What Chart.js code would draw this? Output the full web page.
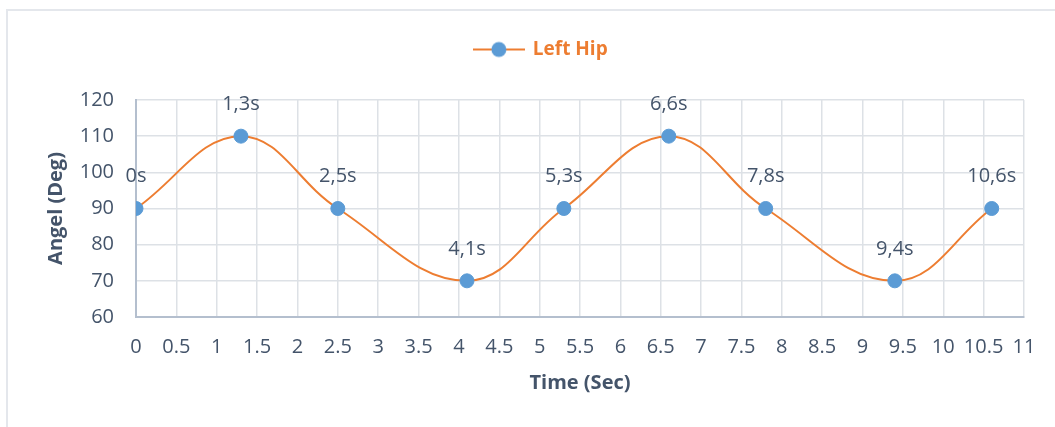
<!DOCTYPE html>
<html>
<head>
<meta charset="utf-8">
<script src="https://cdn.jsdelivr.net/npm/chart.js@4.4.1/dist/chart.umd.min.js"></script>
<style>
  html, body { margin: 0; padding: 0; background: #ffffff; }
  #wrap { position: relative; width: 1055px; height: 427px; }
</style>
</head>
<body>
<div id="wrap"><canvas id="c" width="1055" height="427"></canvas></div>
<script>
// ---- data ----
const timeValues = [0, 1.3, 2.5, 4.1, 5.3, 6.6, 7.8, 9.4, 10.6];
const angleValues = [90, 110, 90, 70, 90, 110, 90, 70, 90];
const pointLabels = ['0s', '1,3s', '2,5s', '4,1s', '5,3s', '6,6s', '7,8s', '9,4s', '10,6s'];
const seriesName = 'Left Hip';
const xTitle = 'Time (Sec)';
const yTitle = 'Angel (Deg)';
const xMin = 0, xMax = 11, xStep = 0.5;
const yMin = 60, yMax = 120, yStep = 10;

const ORANGE = '#ED7D31';
const BLUE = '#5B9BD5';
const TEXT = '#44546A';
const FONT = "'Open Sans', 'Noto Sans', sans-serif";

// legend symbol: line with a circle marker
const sym = document.createElement('canvas');
sym.width = 52; sym.height = 18;
(function () {
  const g = sym.getContext('2d');
  g.strokeStyle = ORANGE; g.lineWidth = 2;
  g.beginPath(); g.moveTo(0, 9); g.lineTo(52, 9); g.stroke();
  g.fillStyle = BLUE;
  g.beginPath(); g.arc(26, 9, 7.5, 0, Math.PI * 2); g.fill();
})();

const frame = {
  id: 'frame',
  beforeDraw(chart) {
    const ctx = chart.ctx;
    ctx.save();
    ctx.fillStyle = '#E4E7EC';
    ctx.fillRect(6, 9, chart.width - 6, 2);
    ctx.fillRect(6, 9, 2, chart.height - 9);
    ctx.restore();
  }
};

// give the legend extra room below its row and nudge it to the reference position
const legendTweak = {
  id: 'legendTweak',
  beforeLayout(chart) {
    const lg = chart.legend;
    if (lg && !lg._tweaked) {
      const f = lg.fit;
      lg.fit = function () { f.call(this); this.height += 31; };
      lg._tweaked = true;
    }
  },
  afterLayout(chart) {
    const lg = chart.legend;
    if (lg) { lg.left += 29; lg.right += 29; }
  }
};

const valueLabels = {
  id: 'valueLabels',
  afterDatasetsDraw(chart) {
    const ctx = chart.ctx;
    const meta = chart.getDatasetMeta(0);
    ctx.save();
    ctx.font = '20px ' + FONT;
    ctx.fillStyle = TEXT;
    ctx.textAlign = 'center';
    ctx.textBaseline = 'middle';
    meta.data.forEach((pt, i) => {
      ctx.fillText(pointLabels[i], pt.x, pt.y - 32);
    });
    ctx.restore();
  }
};

new Chart(document.getElementById('c'), {
  type: 'scatter',
  data: {
    datasets: [{
      label: seriesName,
      data: timeValues.map((t, i) => ({ x: t, y: angleValues[i] })),
      showLine: true,
      borderColor: ORANGE,
      borderWidth: 2,
      backgroundColor: BLUE,
      pointBackgroundColor: BLUE,
      pointBorderColor: BLUE,
      pointBorderWidth: 1,
      pointRadius: 7,
      pointHoverRadius: 7,
      pointStyle: 'circle',
      tension: 0.4,
      fill: false
    }]
  },
  options: {
    responsive: false,
    animation: false,
    layout: { padding: { left: 0, right: 31, top: 30, bottom: 0 } },
    plugins: {
      tooltip: { enabled: false },
      legend: {
        display: true,
        position: 'top',
        labels: {
          usePointStyle: true,
          pointStyle: sym,
          pointStyleWidth: 49,
          padding: 10,
          color: ORANGE,
          font: { family: FONT, size: 19, weight: 'bold' },
          generateLabels(chart) {
            return [{ text: seriesName, pointStyle: sym, fontColor: ORANGE, lineWidth: 0, datasetIndex: 0, hidden: false }];
          }
        }
      }
    },
    scales: {
      x: {
        type: 'linear',
        min: xMin, max: xMax,
        afterFit(s) { s.height = 427 - 317; },
        ticks: {
          stepSize: xStep,
          autoSkip: false,
          maxRotation: 0,
          padding: 18,
          color: TEXT,
          font: { family: FONT, size: 20 },
          callback: v => String(v)
        },
        grid: { color: '#DDE1E6', lineWidth: 1.5, drawTicks: false },
        border: { color: '#B4BFCE', width: 2 },
        title: {
          display: true, text: xTitle, color: TEXT,
          font: { family: FONT, size: 20, weight: 'bold' },
          padding: { top: 0, bottom: 32 }
        }
      },
      y: {
        type: 'linear',
        min: yMin, max: yMax,
        afterFit(s) { s.width = 136; },
        ticks: {
          stepSize: yStep,
          padding: 22,
          color: TEXT,
          font: { family: FONT, size: 20 }
        },
        grid: { color: '#DDE1E6', lineWidth: 1.5, drawTicks: false },
        border: { color: '#B4BFCE', width: 2 },
        title: {
          display: true, text: yTitle, color: TEXT,
          font: { family: FONT, size: 20, weight: 'bold' },
          padding: { top: 44, bottom: 0 }
        }
      }
    }
  },
  plugins: [frame, legendTweak, valueLabels]
});
</script>
</body>
</html>
